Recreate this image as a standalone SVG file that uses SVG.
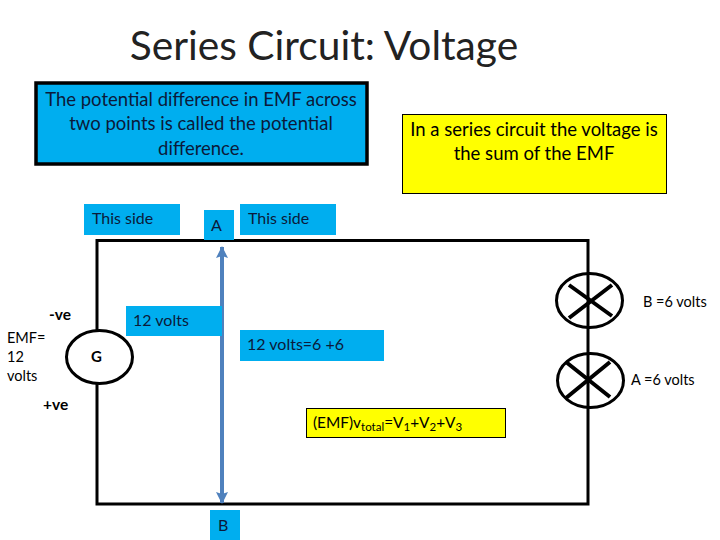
<svg xmlns="http://www.w3.org/2000/svg" width="720" height="540" viewBox="0 0 720 540">
<style>
text{font-family:"Lato","Open Sans","Liberation Sans",sans-serif;fill:#000}
.c{text-anchor:middle}
.b{fill:#00aeef}
.t{font-size:16px;fill:#0b1a3a}
.s{font-size:14.500px}
.w{fill:none;stroke:#000;stroke-width:3}
.x{fill:#fff;stroke:#000;stroke-width:3}
.k{stroke:#000;stroke-width:4;fill:none}
.y{fill:#ff0;stroke:#000;stroke-width:1}
</style>
<defs>
<marker id="ah" markerUnits="userSpaceOnUse" markerWidth="14" markerHeight="14" refX="11" refY="7" orient="auto-start-reverse"><path d="M0 1L12 7L0 13L2 7Z" fill="#4f81bd"/></marker>
</defs>
<rect width="720" height="540" fill="#fff"/>
<text id="title" x="324" y="60" class="c" style="font-size:40.700px;fill:#222">Series Circuit: Voltage</text>
<g id="connectors">
<path class="w" d="M97 330V240.500H588V504H97V384"/>
<path d="M222 247V503" stroke="#4f81bd" stroke-width="4" fill="none" marker-start="url(#ah)" marker-end="url(#ah)"/>
</g>
<g id="definition"><rect x="36" y="83" width="331" height="81" fill="#00aeef" stroke="#000" stroke-width="3.500"/><text class="c t" style="font-size:18.500px"><tspan x="201" y="106">The potential difference in EMF across</tspan><tspan x="201" y="130">two points is called the potential</tspan><tspan x="201" y="155">difference.</tspan></text></g>
<g id="sum-note"><rect class="y" x="402.500" y="114.500" width="264" height="79"/><text class="c" style="font-size:18.500px"><tspan x="534" y="136">In a series circuit the voltage is</tspan><tspan x="534" y="160">the sum of the EMF</tspan></text></g>
<g id="side-left"><rect class="b" x="84" y="204" width="96" height="31"/><text class="t" x="92" y="224">This side</text></g>
<g id="label-a"><rect class="b" x="204" y="210" width="30" height="30"/><text class="t" x="211" y="231">A</text></g>
<g id="side-right"><rect class="b" x="240" y="204" width="96" height="31"/><text class="t" x="248" y="224">This side</text></g>
<g id="twelve"><rect class="b" x="126" y="306" width="96" height="30"/><text class="t" x="133" y="326">12 volts</text></g>
<g id="twelve-sum"><rect class="b" x="240" y="330" width="144" height="31"/><text class="t" x="247" y="350">12 volts=6 +6</text></g>
<g id="label-b"><rect class="b" x="210" y="510" width="30" height="30"/><text class="t" x="218" y="531">B</text></g>
<g id="generator"><ellipse class="x" cx="99.500" cy="357" rx="33" ry="26.500"/><text x="91" y="362" font-size="15" font-weight="700">G</text></g>
<g id="polarity"><text x="49" y="320" font-size="15.500" font-weight="700">-ve</text><text x="43" y="410" font-size="15.500" font-weight="700">+ve</text></g>
<g id="emf"><text class="s"><tspan x="7" y="343">EMF=</tspan><tspan x="7" y="362">12</tspan><tspan x="7" y="381">volts</tspan></text></g>
<g id="lamp-b"><ellipse class="x" cx="589.500" cy="300.500" rx="33" ry="27"/><path class="k" d="M569 285L612 316M569 318L612 285"/><path class="w" d="M588 273V328"/><text class="s" x="643" y="307">B =6 volts</text></g>
<g id="lamp-a"><ellipse class="x" cx="590.500" cy="380.500" rx="33" ry="27"/><path class="k" d="M566 362L610 397M566 398L610 362"/><path class="w" d="M588 353V408"/><text class="s" x="631" y="385">A =6 volts</text></g>
<g id="formula"><rect class="y" x="306.500" y="408.500" width="199" height="29"/><text x="313" y="428" style="font-size:15.400px">(EMF)v<tspan font-size="11.500" dy="3">total</tspan><tspan dy="-3">=V</tspan><tspan font-size="11.500" dy="3">1</tspan><tspan dy="-3">+V</tspan><tspan font-size="11.500" dy="3">2</tspan><tspan dy="-3">+V</tspan><tspan font-size="11.500" dy="3">3</tspan></text></g>
</svg>
